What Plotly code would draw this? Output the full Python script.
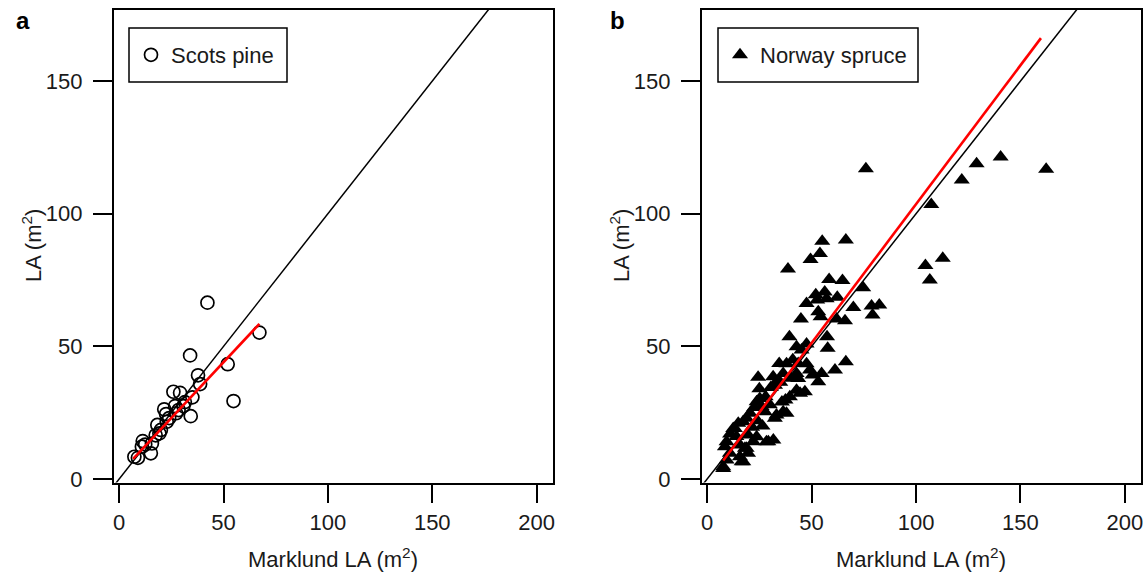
import plotly.graph_objects as go

# ---------------- data ----------------
pine_x = [7.3, 9.0, 10.9, 11.3, 12.5, 15.2, 15.7, 17.5, 18.3, 19.3, 20.0, 21.6, 22.5, 22.8,
          24.0, 26.0, 26.8, 27.3, 28.5, 29.2, 30.8, 31.5, 34.3, 35.1, 37.8, 38.8, 34.0,
          42.3, 52.0, 54.8, 67.2]
pine_y = [8.4, 8.0, 12.2, 14.3, 13.0, 9.7, 13.4, 16.5, 20.4, 17.2, 18.5, 26.3, 24.5, 21.6,
          23.0, 32.9, 27.5, 24.8, 26.0, 32.5, 27.5, 29.0, 23.7, 30.8, 39.1, 35.8, 46.6,
          66.5, 43.3, 29.4, 55.2]

spruce_x = [76.0, 107.3, 104.5, 112.8, 106.6, 121.9, 129.0, 140.5, 162.3,
            55.1, 66.4, 54.0, 49.5, 38.7, 58.4, 64.8, 74.7,
            52.0, 56.3, 57.2, 52.7, 62.3,
            47.6, 70.0, 78.7, 82.4, 79.2,
            53.2, 54.3, 44.9, 62.0, 66.0,
            39.4, 57.4, 42.8, 47.6, 45.2, 57.7,
            34.5, 38.0, 43.6, 47.6, 49.2, 50.5, 54.8, 61.2, 66.4,
            24.4, 31.6, 36.4, 33.2, 42.8, 43.6, 53.2,
            46.8, 42.8, 39.6, 37.5, 35.8, 44.5,
            36.4, 33.2, 32.4, 38.0,
            30.5, 32.5, 35.0,
            25.2, 23.7, 26.1, 27.6,
            20.5, 18.9, 17.2, 14.9, 13.3, 12.5,
            23.7, 22.1, 29.3, 31.7, 28.4,
            9.3, 8.5, 15.7, 18.9, 19.6, 18.1,
            16.5, 9.3, 7.7, 10.9, 15.7, 17.3, 7.7,
            19.6, 21.5, 24.0, 26.5, 28.0, 30.0, 22.5, 14.0, 11.0, 25.0, 40.0, 41.0]
spruce_y = [117.0, 103.5, 80.5, 83.2, 75.0, 112.7, 118.8, 121.4, 116.8,
            89.6, 90.1, 85.0, 82.8, 79.2, 75.2, 74.8, 72.1,
            69.5, 70.5, 68.0, 67.5, 68.5,
            66.2, 64.7, 65.2, 65.6, 61.8,
            63.1, 61.2, 60.3, 60.3, 59.7,
            53.6, 53.6, 49.9, 50.9, 48.6, 49.3,
            43.6, 43.5, 43.6, 43.5, 41.1, 39.2, 39.8, 41.1, 44.2,
            38.4, 38.6, 39.8, 36.7, 39.8, 37.9, 36.7,
            32.9, 33.5, 31.0, 29.8, 29.0, 32.3,
            25.4, 24.1, 22.9, 24.8,
            34.5, 35.4, 36.5,
            30.4, 29.1, 27.3, 25.4,
            24.8, 22.9, 21.6, 21.0, 19.1, 19.1,
            15.9, 14.1, 14.1, 14.7, 14.1,
            14.1, 12.2, 12.8, 11.6, 9.7, 11.6,
            6.5, 7.2, 4.6, 9.7, 8.4, 6.5, 4.0,
            16.6, 19.5, 22.0, 20.0, 31.0, 28.0, 27.0, 16.0, 17.0, 34.0, 38.0, 45.0]

# fitted (red) lines
fit_a_x = [6.7, 67.2]
fit_a_y = [7.6, 58.5]
fit_b_x = [7.7, 159.8]
fit_b_y = [7.0, 166.2]

# 1:1 line
one_to_one = [-10, 220]

x_ticks = [0, 50, 100, 150, 200]
y_ticks = [0, 50, 100, 150]
x_range = [-2.6, 207.7]
y_range = [-1.3, 176.8]

# ---------------- figure ----------------
fig = go.Figure()

FONT = "Liberation Sans, Arial, sans-serif"
TXT = "#1a1a1a"
FS = 22

# panel a
fig.add_trace(go.Scatter(x=one_to_one, y=one_to_one, mode="lines",
                         line=dict(color="black", width=1.5), showlegend=False,
                         xaxis="x", yaxis="y", hoverinfo="skip"))
fig.add_trace(go.Scatter(x=pine_x, y=pine_y, mode="markers", name="Scots pine",
                         marker=dict(symbol="circle-open", size=13, color="black",
                                     line=dict(width=1.7, color="black")),
                         xaxis="x", yaxis="y", legend="legend"))
fig.add_trace(go.Scatter(x=fit_a_x, y=fit_a_y, mode="lines",
                         line=dict(color="#ff0000", width=2.6), showlegend=False,
                         xaxis="x", yaxis="y"))

# panel b
fig.add_trace(go.Scatter(x=one_to_one, y=one_to_one, mode="lines",
                         line=dict(color="black", width=1.5), showlegend=False,
                         xaxis="x2", yaxis="y2", hoverinfo="skip"))
fig.add_trace(go.Scatter(x=spruce_x, y=spruce_y, mode="markers", name="Norway spruce",
                         marker=dict(symbol="triangle-up", size=14, color="black"),
                         xaxis="x2", yaxis="y2", legend="legend2"))
fig.add_trace(go.Scatter(x=fit_b_x, y=fit_b_y, mode="lines",
                         line=dict(color="#ff0000", width=2.6), showlegend=False,
                         xaxis="x2", yaxis="y2"))

W, H = 1146, 575
xa_dom = [113.7 / W, 552.7 / W]
xb_dom = [701.7 / W, 1141.0 / W]
y_dom = [(H - 482.5) / H, (H - 10) / H]

axis_common = dict(showgrid=False, zeroline=False, showline=True, mirror=True,
                   linecolor="black", linewidth=1.5, ticks="outside", ticklen=19,
                   tickwidth=1.5, tickcolor="black", automargin=False,
                   tickfont=dict(family=FONT, size=FS, color=TXT))

legend_common = dict(xanchor="left", yanchor="middle", borderwidth=0,
                     bgcolor="rgba(0,0,0,0)", font=dict(family=FONT, size=FS, color=TXT),
                     itemwidth=30)

fig.update_layout(
    width=W, height=H,
    margin=dict(l=0, r=0, t=0, b=0),
    plot_bgcolor="white", paper_bgcolor="white",
    font=dict(family=FONT, size=FS, color=TXT),
    xaxis=dict(domain=xa_dom, range=x_range, tickvals=x_ticks, anchor="y", **axis_common),
    yaxis=dict(domain=y_dom, range=y_range, tickvals=y_ticks, anchor="x",
               ticklabelstandoff=6, **axis_common),
    xaxis2=dict(domain=xb_dom, range=x_range, tickvals=x_ticks, anchor="y2", **axis_common),
    yaxis2=dict(domain=y_dom, range=y_range, tickvals=y_ticks, anchor="x2",
                ticklabelstandoff=6, **axis_common),
    legend=dict(x=131 / W, y=(H - 55) / H, **legend_common),
    legend2=dict(x=720 / W, y=(H - 55) / H, **legend_common),
    showlegend=True,
)

# legend frames
shapes = [
    dict(type="rect", xref="paper", yref="paper", x0=129 / W, x1=287 / W,
         y0=(H - 82) / H, y1=(H - 28) / H, line=dict(color="black", width=1.5),
         fillcolor="rgba(0,0,0,0)", layer="above"),
    dict(type="rect", xref="paper", yref="paper", x0=718 / W, x1=918 / W,
         y0=(H - 82) / H, y1=(H - 28) / H, line=dict(color="black", width=1.5),
         fillcolor="rgba(0,0,0,0)", layer="above"),
]
fig.update_layout(shapes=shapes)

ann_common = dict(xref="paper", yref="paper", showarrow=False,
                  xanchor="center", yanchor="middle")
annotations = [
    dict(text="<b>a</b>", x=23 / W, y=(H - 20) / H,
         font=dict(family=FONT, size=24, color="black"), **ann_common),
    dict(text="<b>b</b>", x=617 / W, y=(H - 20) / H,
         font=dict(family=FONT, size=24, color="black"), **ann_common),
    dict(text="Marklund LA (m<sup>2</sup>)", x=(xa_dom[0] + xa_dom[1]) / 2, y=(H - 558) / H,
         font=dict(family=FONT, size=FS, color=TXT), **ann_common),
    dict(text="Marklund LA (m<sup>2</sup>)", x=(xb_dom[0] + xb_dom[1]) / 2, y=(H - 558) / H,
         font=dict(family=FONT, size=FS, color=TXT), **ann_common),
    dict(text="LA (m<sup>2</sup>)", x=32 / W, y=(H - 246) / H, textangle=-90,
         font=dict(family=FONT, size=FS, color=TXT), **ann_common),
    dict(text="LA (m<sup>2</sup>)", x=620 / W, y=(H - 246) / H, textangle=-90,
         font=dict(family=FONT, size=FS, color=TXT), **ann_common),
]
fig.update_layout(annotations=annotations)

fig.write_html("out.html", config={"displayModeBar": False},
               post_script="document.body.style.margin='0';document.body.style.padding='0';")
